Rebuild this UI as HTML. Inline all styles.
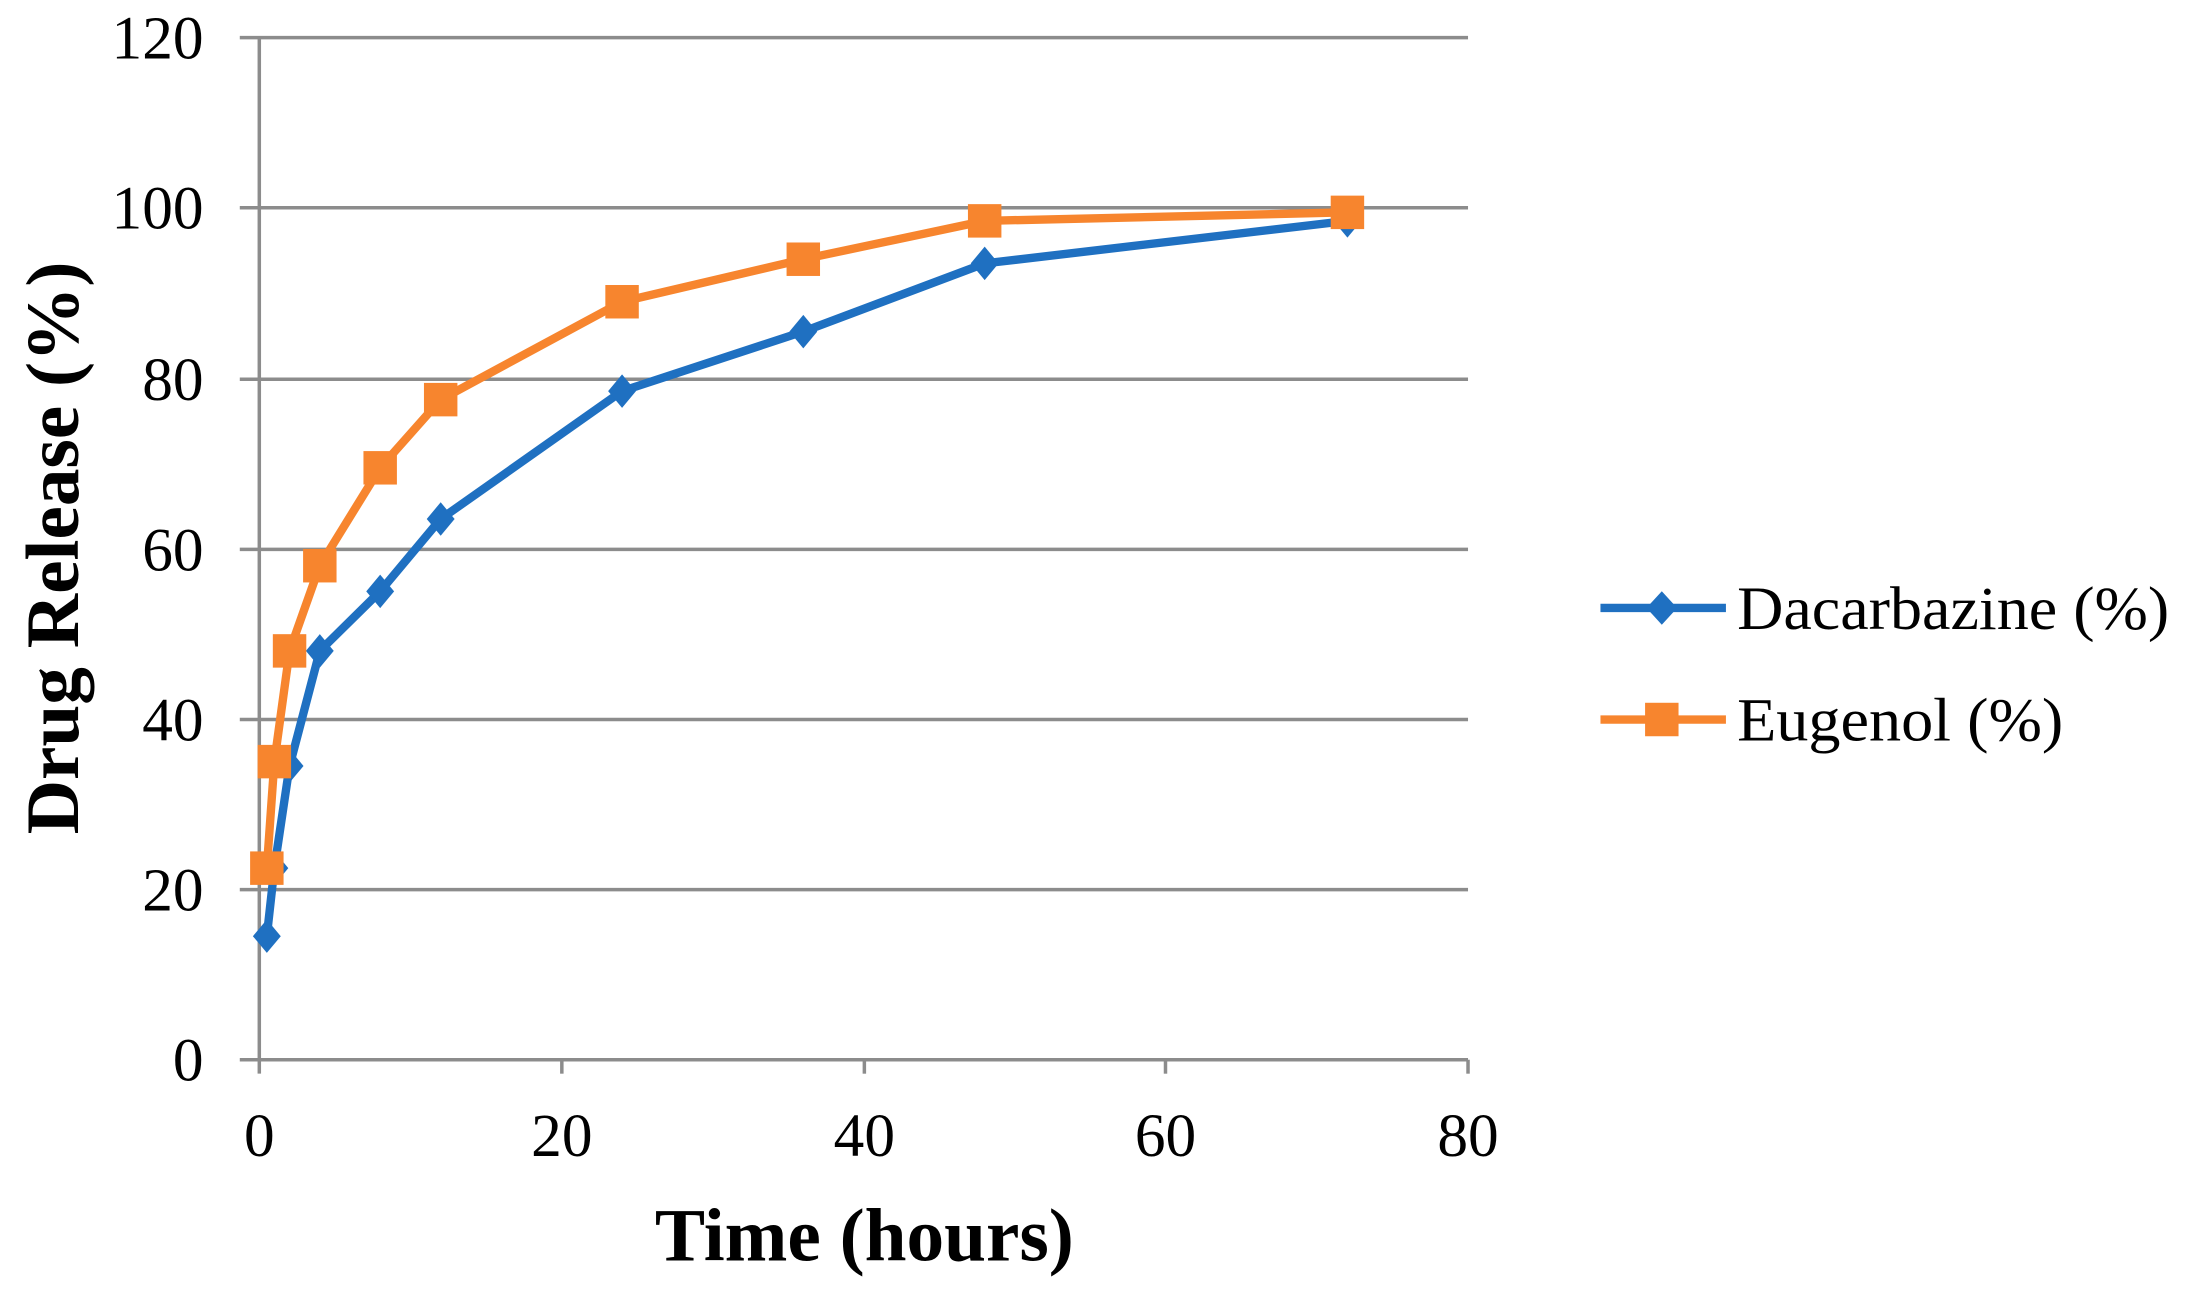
<!DOCTYPE html>
<html><head><style>html,body{margin:0;padding:0;background:#fff}svg{display:block}</style></head>
<body>
<svg width="2186" height="1294" viewBox="0 0 1568 928" preserveAspectRatio="none" xmlns="http://www.w3.org/2000/svg" font-family="Liberation Serif, serif">
<g stroke="#8c8c8c" stroke-width="2.5">
<line x1="172" y1="27" x2="1053" y2="27"/>
<line x1="172" y1="149" x2="1053" y2="149"/>
<line x1="172" y1="272" x2="1053" y2="272"/>
<line x1="172" y1="394" x2="1053" y2="394"/>
<line x1="172" y1="516" x2="1053" y2="516"/>
<line x1="172" y1="638" x2="1053" y2="638"/>
<line x1="172" y1="760" x2="1053" y2="760"/>
<line x1="186" y1="27" x2="186" y2="770"/>
<line x1="403" y1="760" x2="403" y2="770"/>
<line x1="620" y1="760" x2="620" y2="770"/>
<line x1="836" y1="760" x2="836" y2="770"/>
<line x1="1053" y1="760" x2="1053" y2="770"/>
</g>
<g font-size="44" fill="#000" text-anchor="end">
<text x="146" y="42">120</text><text x="146" y="164">100</text><text x="146" y="287">80</text>
<text x="146" y="409">60</text><text x="146" y="531">40</text><text x="146" y="653">20</text><text x="146" y="775">0</text>
</g>
<g font-size="44" fill="#000" text-anchor="middle">
<text x="186" y="829">0</text><text x="403" y="829">20</text><text x="620" y="829">40</text><text x="836" y="829">60</text><text x="1053" y="829">80</text>
</g>
<text x="620" y="904" font-size="54" font-weight="bold" text-anchor="middle">Time (hours)</text>
<text transform="translate(56,393) rotate(-90)" font-size="54" font-weight="bold" text-anchor="middle">Drug Release (%)</text>
<polyline fill="none" stroke="#1f70c1" stroke-width="6" stroke-linejoin="round" points="191.4,671.4 196.8,622.6 207.7,549.3 229.4,466.8 272.7,424.1 316.1,372.2 446.2,280.5 576.2,237.8 706.3,188.9 966.5,158.4"/>
<g fill="#1f70c1">
<path d="M191.4,659.4 l10,12 l-10,12 l-10,-12z"/><path d="M196.8,610.6 l10,12 l-10,12 l-10,-12z"/>
<path d="M207.7,537.3 l10,12 l-10,12 l-10,-12z"/><path d="M229.4,454.8 l10,12 l-10,12 l-10,-12z"/>
<path d="M272.7,412.1 l10,12 l-10,12 l-10,-12z"/><path d="M316.1,360.2 l10,12 l-10,12 l-10,-12z"/>
<path d="M446.2,268.5 l10,12 l-10,12 l-10,-12z"/><path d="M576.2,225.8 l10,12 l-10,12 l-10,-12z"/>
<path d="M706.3,176.9 l10,12 l-10,12 l-10,-12z"/><path d="M966.5,146.4 l10,12 l-10,12 l-10,-12z"/>
</g>
<polyline fill="none" stroke="#f7852e" stroke-width="6" stroke-linejoin="round" points="191.4,622.6 196.8,546.2 207.7,466.8 229.4,405.7 272.7,335.5 316.1,286.6 446.2,216.4 576.2,185.9 706.3,158.4 966.5,152.3"/>
<g fill="#f7852e">
<rect x="179.4" y="610.6" width="24" height="24"/><rect x="184.8" y="534.2" width="24" height="24"/>
<rect x="195.7" y="454.8" width="24" height="24"/><rect x="217.4" y="393.7" width="24" height="24"/>
<rect x="260.7" y="323.5" width="24" height="24"/><rect x="304.1" y="274.6" width="24" height="24"/>
<rect x="434.2" y="204.4" width="24" height="24"/><rect x="564.2" y="173.9" width="24" height="24"/>
<rect x="694.3" y="146.4" width="24" height="24"/><rect x="954.5" y="140.3" width="24" height="24"/>
</g>
<line x1="1148" y1="436" x2="1238" y2="436" stroke="#1f70c1" stroke-width="6"/>
<path d="M1192,424 l11,12 l-11,12 l-11,-12z" fill="#1f70c1"/>
<text x="1246" y="451" font-size="44" textLength="310" lengthAdjust="spacingAndGlyphs">Dacarbazine (%)</text>
<line x1="1148" y1="516" x2="1238" y2="516" stroke="#f7852e" stroke-width="6"/>
<rect x="1180" y="504" width="24" height="24" fill="#f7852e"/>
<text x="1246" y="531" font-size="44" textLength="234" lengthAdjust="spacingAndGlyphs">Eugenol (%)</text>
</svg>
</body></html>
